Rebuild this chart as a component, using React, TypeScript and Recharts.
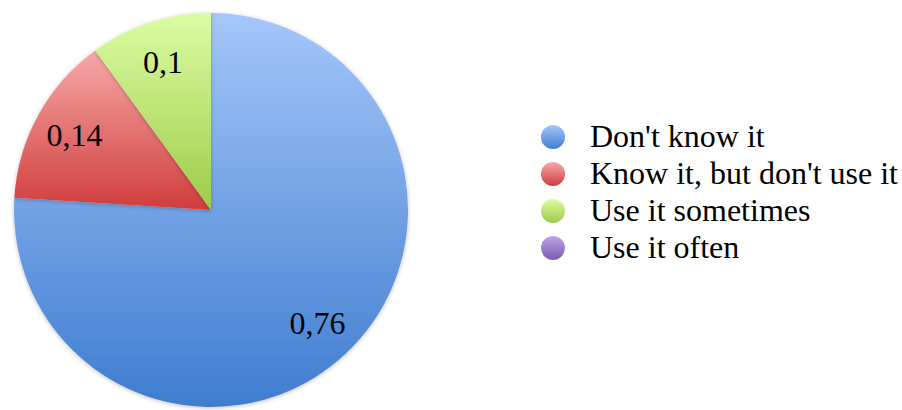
import React from "react";
import { PieChart, Pie, Cell, Legend } from "recharts";

const categories = ["Don't know it", "Know it, but don't use it", "Use it sometimes", "Use it often"];
const values = [0.76, 0.14, 0.1, 0];
const labels = ["0,76", "0,14", "0,1", ""];
const gradTop = ["#a5c6fb", "#f7a9a9", "#dcfca2", "#bca4e4"];
const gradBottom = ["#3f7dcf", "#d03d3d", "#9ccc4a", "#7d5cb0"];

const data = categories.map((name, i) => ({ name, value: values[i], label: labels[i] }));

const FONT = "'Liberation Serif', 'Times New Roman', serif";

const RAD = Math.PI / 180;

const renderLabel = (props: any) => {
  const { cx, cy, midAngle, outerRadius, index } = props;
  const lbl = labels[index];
  if (!lbl) return null;
  const r = outerRadius * 0.79;
  const x = cx + r * Math.cos(-midAngle * RAD);
  const y = cy + r * Math.sin(-midAngle * RAD);
  return (
    <text x={x} y={y} textAnchor="middle" dominantBaseline="central" fill="#000" fontSize={32} fontFamily={FONT}>
      {lbl}
    </text>
  );
};

const LegendContent = () => (
  <div style={{ fontFamily: FONT, fontSize: 32, color: "#000" }}>
    {categories.map((c, i) => (
      <div key={c} style={{ display: "flex", alignItems: "center", height: 37, lineHeight: "37px", whiteSpace: "nowrap" }}>
        <svg width={24} height={24} style={{ marginRight: 25, flex: "none" }}>
          <circle cx={12} cy={12} r={12} fill={`url(#lg${i})`} />
        </svg>
        <span>{c}</span>
      </div>
    ))}
  </div>
);

export default function App() {
  return (
    <div style={{ position: "absolute", left: 0, top: 0, width: 902, height: 410, background: "#fff" }}>
      <PieChart width={902} height={410} margin={{ top: 0, right: 0, bottom: 0, left: 0 }}>
        <defs>
          {gradTop.map((t, i) => (
            <linearGradient key={i} id={`lg${i}`} x1="0" y1="0" x2="0" y2="1">
              <stop offset="0%" stopColor={t} />
              <stop offset="100%" stopColor={gradBottom[i]} />
            </linearGradient>
          ))}
          <filter id="shadow" x="-10%" y="-10%" width="120%" height="120%">
            <feDropShadow dx="0" dy="1" stdDeviation="2" floodColor="#000" floodOpacity="0.25" />
          </filter>
        </defs>
        <Pie
          data={data}
          dataKey="value"
          nameKey="name"
          cx={211}
          cy={210}
          outerRadius={197}
          startAngle={90}
          endAngle={-270}
          stroke="none"
          label={renderLabel}
          labelLine={false}
          isAnimationActive={false}
          style={{ filter: "url(#shadow)" }}
        >
          {data.map((d, i) => (
            <Cell key={d.name} fill={`url(#lg${i})`} stroke="none" />
          ))}
        </Pie>
        <Legend
          content={<LegendContent />}
          wrapperStyle={{ position: "absolute", left: 541, top: 118, width: 361, height: 150 }}
        />
      </PieChart>
    </div>
  );
}
